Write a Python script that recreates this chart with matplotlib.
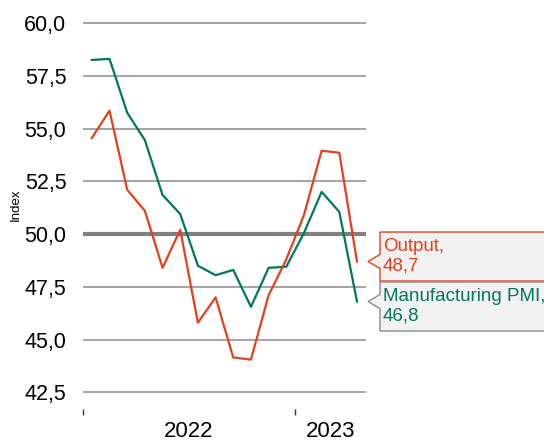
import matplotlib.pyplot as plt
from matplotlib.patches import Polygon
from matplotlib.transforms import IdentityTransform

plt.rcParams['font.family'] = ['Liberation Sans', 'DejaVu Sans']

# monthly values, Jan 2022 - Apr 2023
months = list(range(16))
pmi = [58.25, 58.3, 55.75, 54.45, 51.85, 50.95, 48.5, 48.05, 48.3, 46.55,
       48.4, 48.45, 50.05, 52.0, 51.05, 46.8]
output = [54.55, 55.85, 52.1, 51.1, 48.4, 50.2, 45.8, 47.0, 44.15, 44.05,
          47.1, 48.8, 50.9, 53.95, 53.85, 48.7]
yticks = [42.5, 45.0, 47.5, 50.0, 52.5, 55.0, 57.5, 60.0]
year_labels = ['2022', '2023']
year_pos = [5.5, 13.5]
year_ticks = [-0.5, 11.5]

red = '#e2401e'
green = '#00785c'

fig = plt.figure(figsize=(5.44, 4.44), dpi=100)
ax = fig.add_axes([83 / 544, 1 - 409.2 / 444, 283 / 544, 390.4 / 444])
ax.set_xlim(-0.5, 15.51)
ax.set_ylim(41.7, 60.2)

for v in yticks:
    if v == 50.0:
        ax.axhline(v, color='#808080', lw=3, zorder=1)
    else:
        ax.axhline(v, color='#8c8c8c', lw=1.1, zorder=1)

ax.plot(months, pmi, color=green, lw=1.6, zorder=3)
ax.plot(months, output, color=red, lw=1.6, zorder=3)

for s in ax.spines.values():
    s.set_visible(False)
ax.set_yticks(yticks)
ax.set_yticklabels([f'{v:.1f}'.replace('.', ',') for v in yticks], fontsize=15.5)
ax.tick_params(axis='y', length=0, pad=12)
ax.set_xticks(year_ticks)
ax.set_xticklabels([])
ax.tick_params(axis='x', length=4, width=1, color='#333333', direction='out')
for lab, pos in zip(year_labels, year_pos):
    ax.text(pos, -0.03, lab, transform=ax.get_xaxis_transform(),
            ha='center', va='top', fontsize=16)
fig.text(16 / 544, 1 - 205 / 444, 'Index', rotation=90, fontsize=9.5,
         ha='center', va='center')

# callout labels at the last points
fig.canvas.draw()
tips = []
for vals in (output, pmi):
    px, py = ax.transData.transform((months[-1], vals[-1]))
    tips.append([px + 11, py])
box_h = 49
gap = 1
overlap = box_h + gap - (tips[0][1] - tips[1][1])
centers = [tips[0][1] + overlap / 2, tips[1][1] - overlap / 2]
labels = [('Output,\n48,7', red, red), ('Manufacturing PMI,\n46,8', green, '#8c8c8c')]
for (tx, ty), cy, (txt, tcol, ecol) in zip(tips, centers, labels):
    left = tx + 12
    top = cy + box_h / 2
    bot = cy - box_h / 2
    pts = [(left, top), (600, top), (600, bot), (left, bot),
           (left, ty - 7), (tx, ty), (left, ty + 7)]
    fig.add_artist(Polygon(pts, closed=True, transform=IdentityTransform(),
                           facecolor='#f2f2f2', edgecolor=ecol, lw=1.0))
    fig.text((left + 3) / 544, cy / 444, txt, color=tcol, fontsize=13.5,
             ha='left', va='center', linespacing=1.2)

fig.savefig('out.png', dpi=100)
